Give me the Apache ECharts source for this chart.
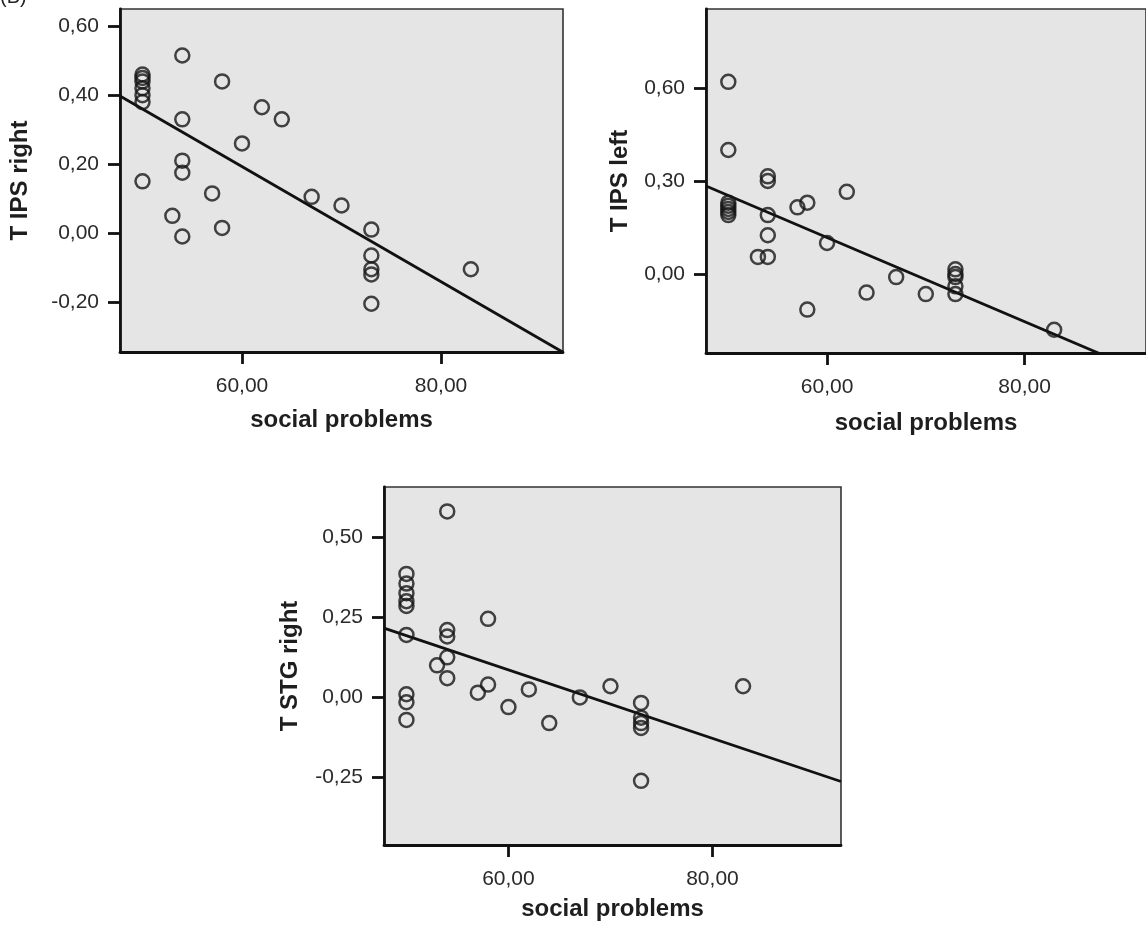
<!DOCTYPE html>
<html>
<head>
<meta charset="utf-8">
<script src="https://cdn.jsdelivr.net/npm/echarts@6/dist/echarts.min.js"></script>
<style>
html,body{margin:0;padding:0;background:#fff;}
#chart{width:1146px;height:928px;}
</style>
</head>
<body>
<div id="chart"></div>
<script>
// ---- data ----
const xTicks = [60, 80];
const yTicksIPSRight = [-0.2, 0, 0.2, 0.4, 0.6];
const yTicksIPSLeft = [0, 0.3, 0.6];
const yTicksSTGRight = [-0.25, 0, 0.25, 0.5];

const socialIPSRight = [50,50,50,50,50,50,50,53,54,54,54,54,54,57,58,58,60,62,64,67,70,73,73,73,73,73,83];
const tIPSRight      = [0.46,0.45,0.44,0.42,0.40,0.38,0.15,0.05,0.515,0.33,0.21,0.175,-0.01,0.115,0.44,0.015,0.26,0.365,0.33,0.105,0.08,0.01,-0.065,-0.105,-0.12,-0.205,-0.105];

const socialIPSLeft = [50,50,50,50,50,50,50,53,54,54,54,54,54,57,58,58,60,62,64,67,70,73,73,73,73,73,83];
const tIPSLeft      = [0.62,0.40,0.23,0.22,0.21,0.20,0.19,0.055,0.315,0.30,0.19,0.125,0.055,0.215,0.23,-0.115,0.10,0.265,-0.06,-0.01,-0.065,0.015,0.0,-0.01,-0.04,-0.065,-0.18];

const socialSTGRight = [50,50,50,50,50,50,50,50,50,53,54,54,54,54,54,57,58,58,60,62,64,67,70,73,73,73,73,73,83];
const tSTGRight      = [0.385,0.355,0.325,0.30,0.285,0.195,0.01,-0.015,-0.07,0.10,0.58,0.21,0.19,0.125,0.06,0.015,0.245,0.04,-0.03,0.025,-0.08,0.0,0.035,-0.017,-0.063,-0.08,-0.095,-0.26,0.035];

// fitted regression lines: [intercept, slope]
const fitIPSRight = [1.195, -0.0167];
const fitIPSLeft  = [0.931, -0.01356];
const fitSTGRight = [0.726, -0.01067];

// ---- axis ranges ----
const xRange = [[47.74, 92.26], [47.74, 92.3], [47.8, 92.6]];
const yRange = [[-0.345, 0.65], [-0.255, 0.855], [-0.46, 0.656]];

const chart = echarts.init(document.getElementById('chart'), null, {renderer: 'canvas'});

const FONT = '"Liberation Sans", Arial, sans-serif';
const fmt = v => v.toFixed(2).replace('.', ',');

function pairs(xs, ys) { return xs.map((x, i) => [x, ys[i]]); }
function fitLine(fit, r) { return [[r[0], fit[0] + fit[1] * r[0]], [r[1], fit[0] + fit[1] * r[1]]]; }

const grids = [
  {left: 120, top: 9, width: 443, height: 343},
  {left: 706, top: 9, width: 445, height: 344},
  {left: 384, top: 487, width: 457, height: 358}
];
const yNames = ['T IPS right', 'T IPS left', 'T STG right'];
const yNameGaps = [88, 74, 82];
const xNameGaps = [56, 58, 52];
const yTicks = [yTicksIPSRight, yTicksIPSLeft, yTicksSTGRight];

const axisLineStyle = {color: '#111', width: 2.8};

const option = {
  animation: false,
  backgroundColor: '#fff',
  grid: grids.map(g => Object.assign({
    show: true, backgroundColor: '#e5e5e5', borderColor: '#333', borderWidth: 1.6, containLabel: false
  }, g)),
  xAxis: [0,1,2].map(i => ({
    type: 'value', gridIndex: i, min: xRange[i][0], max: xRange[i][1],
    name: 'social problems', nameLocation: 'middle', nameGap: xNameGaps[i],
    nameTextStyle: {fontFamily: FONT, fontWeight: 'bold', fontSize: 24, color: '#1e1e1e'},
    axisLine: {show: true, onZero: false, lineStyle: axisLineStyle},
    axisTick: {show: true, length: 12, inside: false, customValues: xTicks, lineStyle: {color: '#111', width: 2.8}},
    axisLabel: {show: true, margin: 24, customValues: xTicks, formatter: fmt,
      fontFamily: FONT, fontSize: 21, color: '#2a2a2a'},
    splitLine: {show: false}
  })),
  yAxis: [0,1,2].map(i => ({
    type: 'value', gridIndex: i, min: yRange[i][0], max: yRange[i][1],
    name: yNames[i], nameLocation: 'middle', nameGap: yNameGaps[i], nameRotate: 90,
    nameTextStyle: {fontFamily: FONT, fontWeight: 'bold', fontSize: 24, color: '#1e1e1e'},
    axisLine: {show: true, onZero: false, lineStyle: axisLineStyle},
    axisTick: {show: true, length: 12, inside: false, customValues: yTicks[i], lineStyle: {color: '#111', width: 2.8}},
    axisLabel: {show: true, margin: 21, customValues: yTicks[i], formatter: fmt,
      fontFamily: FONT, fontSize: 21, color: '#2a2a2a'},
    splitLine: {show: false}
  })),
  series: [
    {data: pairs(socialIPSRight, tIPSRight), fit: fitIPSRight},
    {data: pairs(socialIPSLeft, tIPSLeft), fit: fitIPSLeft},
    {data: pairs(socialSTGRight, tSTGRight), fit: fitSTGRight}
  ].flatMap((s, i) => [
    {
      type: 'line', xAxisIndex: i, yAxisIndex: i, data: fitLine(s.fit, xRange[i]),
      showSymbol: false, symbol: 'none', clip: true, silent: true, z: 2,
      lineStyle: {color: '#111', width: 2.8}
    },
    {
      type: 'scatter', xAxisIndex: i, yAxisIndex: i, data: s.data,
      symbol: 'circle', symbolSize: 14, clip: false, z: 3,
      itemStyle: {color: 'rgba(0,0,0,0)', borderColor: '#161616', borderWidth: 2.5}
    }
  ]),
  graphic: [
    {type: 'text', left: 0, top: -13, style: {text: '(B)', font: '20px "Liberation Sans", Arial, sans-serif', fill: '#222'}}
  ]
};
chart.setOption(option);
</script>
</body>
</html>
